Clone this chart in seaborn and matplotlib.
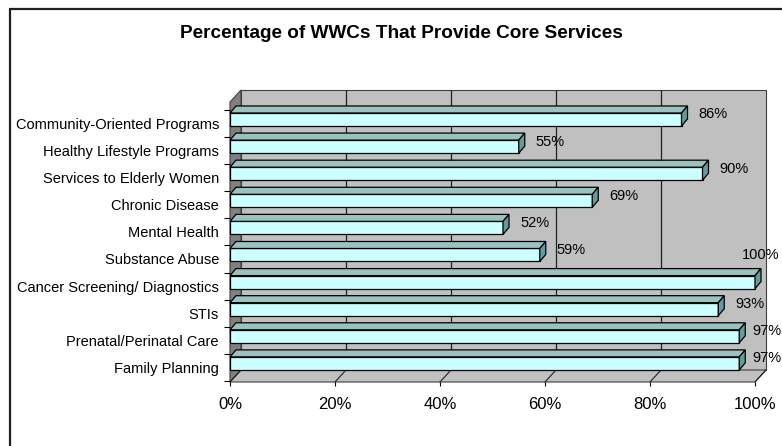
import matplotlib
matplotlib.use("Agg")
import matplotlib.pyplot as plt
import seaborn as sns
import pandas as pd
from matplotlib.patches import Polygon
from matplotlib.transforms import ScaledTranslation
from matplotlib.lines import Line2D

# ---- data ----
categories = ["Community-Oriented Programs", "Healthy Lifestyle Programs",
              "Services to Elderly Women", "Chronic Disease", "Mental Health",
              "Substance Abuse", "Cancer Screening/ Diagnostics", "STIs",
              "Prenatal/Perinatal Care", "Family Planning"]
values = [86, 55, 90, 69, 52, 59, 100, 93, 97, 97]
value_labels = ["86%", "55%", "90%", "69%", "52%", "59%", "100%", "93%", "97%", "97%"]
x_ticks = [0, 20, 40, 60, 80, 100]
x_tick_labels = ["0%", "20%", "40%", "60%", "80%", "100%"]
title = "Percentage of WWCs That Provide Core Services"

sns.set_theme(style="white")
plt.rcParams['font.family'] = ['Liberation Sans', 'DejaVu Sans']

W, H = 782, 446
DPI = 100
fig = plt.figure(figsize=(W / DPI, H / DPI), dpi=DPI)
fig.patch.set_facecolor("white")

# front plane of the 3D plot area: x 230..755 px, y 102..382 px (from top)
ax = fig.add_axes([230 / W, (H - 382) / H, 525 / W, 280 / H])
ax.set_facecolor("none")

df = pd.DataFrame({"cat": categories, "val": values})
sns.barplot(data=df, x="val", y="cat", orient="h", color="#CCFFFF",
            saturation=1, width=0.48, edgecolor="black", linewidth=0.9,
            ax=ax, zorder=3)

YTOP, YBOT = -0.793, 9.539
ax.set_xlim(0, 100)
ax.set_ylim(YBOT, YTOP)

pxx = 525 / 100.0       # pixels per x unit
pxy = 280 / (YBOT - YTOP)  # pixels per category unit

# wall depth offsets (data units)
DX = 11 / pxx
DY = 12 / pxy
# bar depth offsets
BDX = 6 / pxx
BDY = 7 / pxy

wall_kw = dict(clip_on=False, zorder=0.5, linewidth=0.8, edgecolor="#404040")
# back wall
ax.add_patch(Polygon([(DX, YBOT - DY), (100 + DX, YBOT - DY),
                      (100 + DX, YTOP - DY), (DX, YTOP - DY)],
                     closed=True, facecolor="#C0C0C0", **wall_kw))
# side wall
ax.add_patch(Polygon([(0, YBOT), (0, YTOP), (DX, YTOP - DY), (DX, YBOT - DY)],
                     closed=True, facecolor="#808080", **wall_kw))
# floor
ax.add_patch(Polygon([(0, YBOT), (100, YBOT), (100 + DX, YBOT - DY), (DX, YBOT - DY)],
                     closed=True, facecolor="#C0C0C0", **wall_kw))

# gridlines on back wall and floor
for t in x_ticks:
    if 0 < t < 100:
        ax.add_line(Line2D([t + DX, t + DX], [YBOT - DY, YTOP - DY],
                           color="#202020", linewidth=0.9, zorder=1, clip_on=False))
    ax.add_line(Line2D([t, t + DX], [YBOT, YBOT - DY],
                       color="#202020", linewidth=0.8, zorder=1, clip_on=False))

# bars: shift up a little (depth position), add top and end faces
off = ax.transData + ScaledTranslation(0, 4 / DPI, fig.dpi_scale_trans)
bars = list(ax.patches[:len(values)])
for i, p in enumerate(bars):
    p.set_transform(off)
    p.set_clip_on(False)
    x0, w, y0, h = p.get_x(), p.get_width(), p.get_y(), p.get_height()
    top = Polygon([(x0, y0), (x0 + w, y0), (x0 + w + BDX, y0 - BDY), (x0 + BDX, y0 - BDY)],
                  closed=True, facecolor="#99C3C1", edgecolor="black",
                  linewidth=0.9, zorder=3, transform=off, clip_on=False)
    end = Polygon([(x0 + w, y0), (x0 + w + BDX, y0 - BDY), (x0 + w + BDX, y0 + h - BDY),
                   (x0 + w, y0 + h)],
                  closed=True, facecolor="#669999", edgecolor="black",
                  linewidth=0.9, zorder=3, transform=off, clip_on=False)
    ax.add_patch(top)
    ax.add_patch(end)
    if values[i] >= 100:
        xt = (-13, 27)
    elif values[i] >= 95:
        xt = (13, 5)
    else:
        xt = (17, 5)
    ax.annotate(value_labels[i], xy=(x0 + w, y0 + h / 2), xycoords=off,
                xytext=xt, textcoords="offset pixels", ha="left", va="center",
                fontsize=10.5, color="black", zorder=5, annotation_clip=False)

# axes ticks
for s in ax.spines.values():
    s.set_visible(False)
ax.set_xticks(x_ticks)
ax.set_xticklabels(x_tick_labels, fontsize=12)
ax.set_yticks(range(len(categories)))
ax.set_yticklabels(categories, fontsize=10.5)
ax.set_yticks([i - 0.5 for i in range(len(categories) + 1)], minor=True)
ax.tick_params(axis="y", which="major", length=0, pad=8, colors="black")
ax.tick_params(axis="y", which="minor", length=4, width=0.8, color="black", left=True)
ax.tick_params(axis="x", which="major", length=3, width=0.8, pad=8, colors="black", bottom=True)
ax.set_xlabel("")
ax.set_ylabel("")

# title
fig.text(401 / W, (H - 33) / H, title, ha="center", va="center",
         fontsize=13.7, fontweight="bold", color="black")

# outer chart frame (top and left visible)
fig.add_artist(Line2D([10 / W, 10 / W], [0, (H - 9) / H], transform=fig.transFigure,
                      color="#202020", linewidth=1.6))
fig.add_artist(Line2D([10 / W, 1], [(H - 9) / H, (H - 9) / H], transform=fig.transFigure,
                      color="#202020", linewidth=1.6))

fig.savefig("out.png", dpi=DPI)
